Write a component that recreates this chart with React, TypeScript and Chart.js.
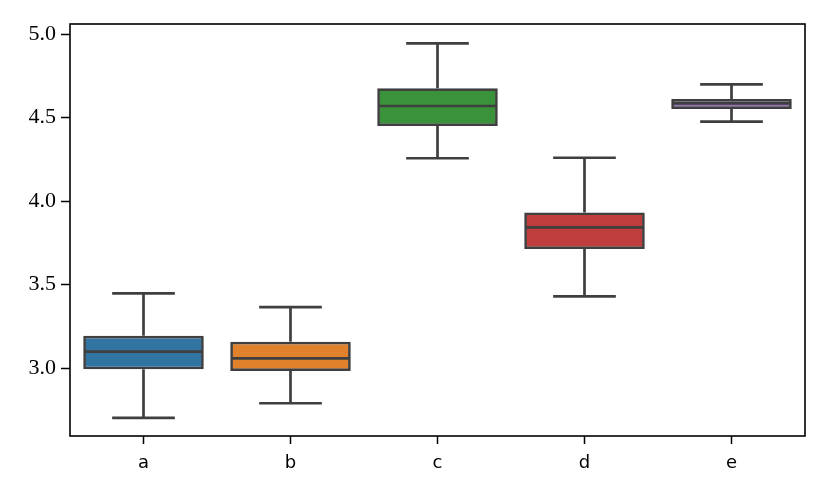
import React, { useEffect, useRef } from "react";
import { Chart, registerables } from "chart.js";

Chart.register(...registerables);

const categories = ["a", "b", "c", "d", "e"];
const whiskerLow = [2.702, 2.789, 4.256, 3.429, 4.475];
const q1 = [2.992, 2.982, 4.449, 3.713, 4.551];
const median = [3.098, 3.058, 4.569, 3.842, 4.585];
const q3 = [3.193, 3.157, 4.675, 3.932, 4.611];
const whiskerHigh = [3.447, 3.365, 4.944, 4.259, 4.699];
const boxColors = ["#3274a1", "#e1812c", "#3a923a", "#c03d3e", "#9372b2"];
const yTicks = [3.0, 3.5, 4.0, 4.5, 5.0];
const yMin = 2.593;
const yMax = 5.06;

const LINE = "#3f3f3f";
const LW = 2.7;

const boxPlugin = {
  id: "boxExtras",
  beforeDatasetsDraw(chart: any) {
    const { ctx, scales } = chart;
    const x = scales.x;
    const y = scales.y;
    const meta = chart.getDatasetMeta(0);
    ctx.save();
    ctx.strokeStyle = LINE;
    ctx.lineWidth = LW;
    ctx.lineCap = "butt";
    categories.forEach((_, i) => {
      const bar = meta.data[i];
      const cx = x.getPixelForValue(i);
      const half = bar.width / 2;
      const capHalf = half * 0.52;
      const yl = y.getPixelForValue(whiskerLow[i]);
      const yh = y.getPixelForValue(whiskerHigh[i]);
      const y1 = y.getPixelForValue(q1[i]);
      const y3 = y.getPixelForValue(q3[i]);
      ctx.beginPath();
      ctx.moveTo(cx, yh);
      ctx.lineTo(cx, y3);
      ctx.moveTo(cx, y1);
      ctx.lineTo(cx, yl);
      ctx.moveTo(cx - capHalf, yh);
      ctx.lineTo(cx + capHalf, yh);
      ctx.moveTo(cx - capHalf, yl);
      ctx.lineTo(cx + capHalf, yl);
      ctx.stroke();
    });
    ctx.restore();
  },
  afterDatasetsDraw(chart: any) {
    const { ctx, scales, chartArea } = chart;
    const x = scales.x;
    const y = scales.y;
    const meta = chart.getDatasetMeta(0);
    ctx.save();
    ctx.strokeStyle = LINE;
    ctx.lineWidth = LW;
    categories.forEach((_, i) => {
      const bar = meta.data[i];
      const cx = x.getPixelForValue(i);
      const half = bar.width / 2;
      const ym = y.getPixelForValue(median[i]);
      ctx.beginPath();
      ctx.moveTo(cx - half + LW / 2, ym);
      ctx.lineTo(cx + half - LW / 2, ym);
      ctx.stroke();
    });
    ctx.strokeStyle = "#000";
    ctx.lineWidth = 1.6;
    ctx.strokeRect(chartArea.left, chartArea.top, chartArea.right - chartArea.left, chartArea.bottom - chartArea.top);
    ctx.restore();
  },
};

export default function App() {
  const ref = useRef<HTMLCanvasElement>(null);
  useEffect(() => {
    document.body.style.margin = "0";
    const chart = new Chart(ref.current as HTMLCanvasElement, {
      type: "bar",
      data: {
        labels: categories,
        datasets: [
          {
            data: categories.map((_, i) => [q1[i], q3[i]]) as any,
            backgroundColor: boxColors,
            borderColor: LINE,
            borderWidth: LW,
            borderSkipped: false,
            barPercentage: 0.82,
            categoryPercentage: 1,
          },
        ],
      },
      options: {
        responsive: false,
        animation: false,
        layout: { padding: { left: 0, right: 25, top: 24, bottom: 0 } },
        plugins: { legend: { display: false }, tooltip: { enabled: false } },
        scales: {
          x: {
            grid: { offset: false, drawOnChartArea: false, drawTicks: true, tickLength: 8, tickColor: "#000", tickWidth: 1.5 },
            border: { display: false },
            ticks: { color: "#000", padding: 9, font: { family: "DejaVu Sans", size: 18 } },
            afterFit(scale: any) {
              scale.height = 62;
            },
          },
          y: {
            min: yMin,
            max: yMax,
            grid: { drawOnChartArea: false, drawTicks: true, tickLength: 9, tickColor: "#000", tickWidth: 1.5 },
            border: { display: false },
            afterBuildTicks(scale: any) {
              scale.ticks = yTicks.map((v) => ({ value: v }));
            },
            ticks: {
              color: "#000",
              padding: 5,
              font: { family: "Liberation Serif", size: 22 },
              callback: (v: any) => Number(v).toFixed(1),
            },
            afterFit(scale: any) {
              scale.width = 70;
            },
          },
        },
      },
      plugins: [boxPlugin],
    });
    return () => chart.destroy();
  }, []);
  return <canvas ref={ref} width={830} height={498} style={{ display: "block" }} />;
}
